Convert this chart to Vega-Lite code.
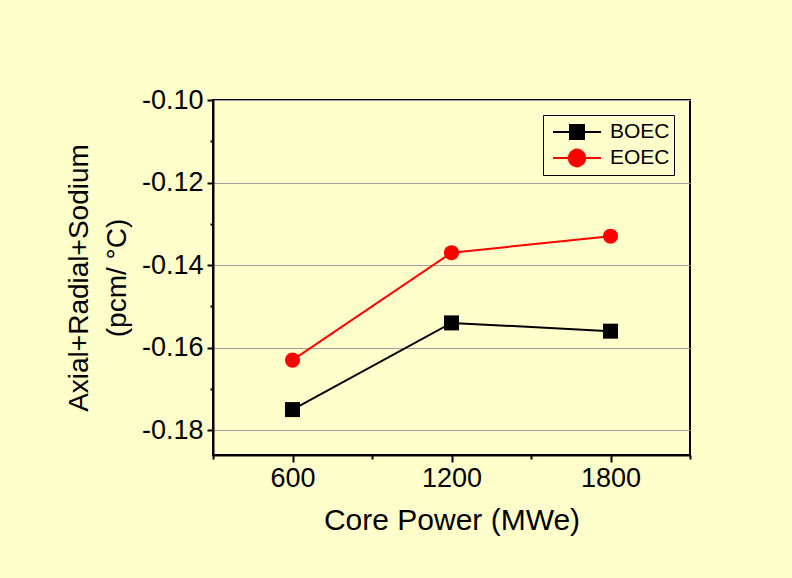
{
  "$schema": "https://vega.github.io/schema/vega-lite/v6.json",
  "width": 477,
  "height": 355,
  "autosize": {"type": "none"},
  "padding": {"left": 213, "top": 100, "right": 102, "bottom": 123},
  "background": "#FFFFCC",
  "config": {"view": {"stroke": "black", "strokeWidth": 2}, "font": "Liberation Sans"},
  "data": {"values": [
    {"Power": 600, "Value": -0.175, "Series": "BOEC"},
    {"Power": 1200, "Value": -0.154, "Series": "BOEC"},
    {"Power": 1800, "Value": -0.156, "Series": "BOEC"},
    {"Power": 600, "Value": -0.163, "Series": "EOEC"},
    {"Power": 1200, "Value": -0.137, "Series": "EOEC"},
    {"Power": 1800, "Value": -0.133, "Series": "EOEC"}
  ]},
  "resolve": {"axis": {"x": "independent", "y": "independent"}},
  "layer": [
    {
      "mark": {"type": "line", "strokeWidth": 2},
      "encoding": {
        "x": {"field": "Power", "type": "quantitative",
          "scale": {"domain": [300, 2100], "nice": false, "zero": false},
          "axis": {"orient": "bottom", "values": [600, 1200, 1800], "format": "d", "title": "Core Power (MWe)",
            "grid": false, "domainColor": "black", "domainWidth": 2, "tickColor": "black", "tickWidth": 2, "tickSize": 7,
            "labelFontSize": 27, "labelColor": "black", "labelPadding": 3, "titleFontSize": 30, "titleFontWeight": "normal",
            "titleColor": "black", "titlePadding": 14}},
        "y": {"field": "Value", "type": "quantitative",
          "scale": {"domain": [-0.186, -0.10], "nice": false, "zero": false},
          "axis": {"orient": "left", "values": [-0.10, -0.12, -0.14, -0.16, -0.18], "format": ".2f",
            "labelExpr": "replace(datum.label, '\u2212', '-')",
            "title": ["Axial+Radial+Sodium", "(pcm/ °C)"],
            "grid": true, "gridColor": "#a0a0a0", "gridWidth": 1,
            "domainColor": "black", "domainWidth": 2, "tickColor": "black", "tickWidth": 2, "tickSize": 6,
            "labelFontSize": 27, "labelColor": "black", "labelPadding": 4, "titleFontSize": 28, "titleFontWeight": "normal",
            "titleColor": "black", "titlePadding": 10, "titleLineHeight": 38}},
        "color": {"field": "Series", "type": "nominal",
          "scale": {"domain": ["BOEC", "EOEC"], "range": ["black", "red"]},
          "legend": {"title": null, "orient": "none", "legendX": 330, "legendY": 15, "strokeColor": "black", "padding": 4,
            "labelFontSize": 21, "labelColor": "black", "labelFont": "Liberation Sans", "symbolSize": 576,
            "symbolStrokeWidth": 2, "rowPadding": 2, "labelOffset": 37,
            "encode": {"symbols": {"update": {
              "shape": {"signal": "datum.value === 'BOEC' ? 'M-0.583,0H3.417M0.833,-0.583H2V0.583H0.833Z' : 'M-0.583,0H3.417M2.083,0A0.667,0.667 0 1,1 0.75,0A0.667,0.667 0 1,1 2.083,0Z'"},
              "fill": {"signal": "datum.value === 'BOEC' ? 'black' : 'red'"},
              "stroke": {"signal": "datum.value === 'BOEC' ? 'black' : 'red'"},
              "fillOpacity": {"value": 1}
            }}}}}
      }
    },
    {
      "transform": [{"filter": "datum.Series === 'BOEC'"}],
      "mark": {"type": "point", "filled": true, "shape": "square", "size": 225, "opacity": 1},
      "encoding": {
        "x": {"field": "Power", "type": "quantitative",
          "axis": {"orient": "bottom", "values": [300, 900, 1500, 2100], "labels": false, "domain": false, "grid": false,
            "title": null, "tickColor": "black", "tickWidth": 2, "tickSize": 4}},
        "y": {"field": "Value", "type": "quantitative",
          "axis": {"orient": "left", "values": [-0.11, -0.13, -0.15, -0.17], "labels": false, "domain": false, "grid": false,
            "title": null, "tickColor": "black", "tickWidth": 2, "tickSize": 3}},
        "color": {"field": "Series", "type": "nominal", "legend": null}
      }
    },
    {
      "transform": [{"filter": "datum.Series === 'EOEC'"}],
      "mark": {"type": "point", "filled": true, "shape": "circle", "size": 230, "opacity": 1},
      "encoding": {
        "x": {"field": "Power", "type": "quantitative", "axis": null},
        "y": {"field": "Value", "type": "quantitative", "axis": null},
        "color": {"field": "Series", "type": "nominal", "legend": null}
      }
    }
  ]
}
